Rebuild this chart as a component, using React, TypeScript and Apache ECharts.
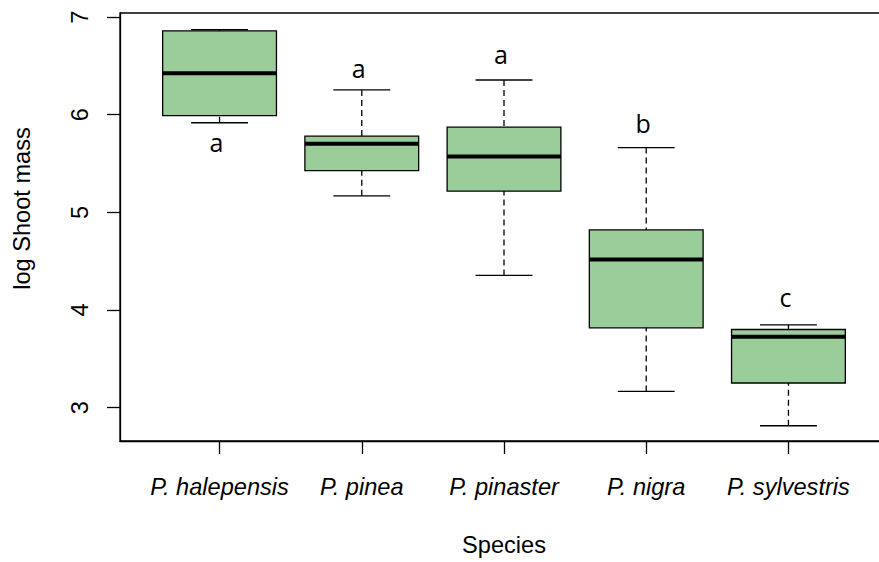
import React, { useEffect, useRef } from "react";
import * as echarts from "echarts";

// ---- data ----
const species = ["P. halepensis", "P. pinea", "P. pinaster", "P. nigra", "P. sylvestris"];
const whiskerLow = [5.918, 5.169, 4.354, 3.165, 2.814];
const quartile1 = [5.992, 5.428, 5.217, 3.817, 3.252];
const medians = [6.424, 5.703, 5.571, 4.517, 3.725];
const quartile3 = [6.859, 5.781, 5.873, 4.82, 3.8];
const whiskerHigh = [6.872, 6.254, 6.356, 5.664, 3.848];
const groupLetters = ["a", "a", "a", "b", "c"];
const letterY = [5.688, 6.453, 6.589, 5.882, 4.099];
const yTicks = [3, 4, 5, 6, 7];
const xTicks = [1, 2, 3, 4, 5];

const AXIS_FONT = "'Liberation Sans', Arial, Helvetica, sans-serif";
const AXIS_SIZE = 23.6;
const LETTER_FONT = "'Open Sans', 'Noto Sans', sans-serif";
const BOX_FILL = "#9BCD9B";

export default function App() {
  const ref = useRef<HTMLDivElement>(null);

  useEffect(() => {
    if (!ref.current) return;
    const chart = echarts.init(ref.current, undefined, { renderer: "svg" });

    const boxData = species.map((_, i) => [
      xTicks[i],
      whiskerLow[i],
      quartile1[i],
      medians[i],
      quartile3[i],
      whiskerHigh[i],
    ]);
    const letterData = species.map((_, i) => [xTicks[i], letterY[i]]);

    const renderBox = (params: any, api: any) => {
      const x = api.value(0);
      const pLow = api.coord([x, api.value(1)]);
      const pQ1 = api.coord([x, api.value(2)]);
      const pMed = api.coord([x, api.value(3)]);
      const pQ3 = api.coord([x, api.value(4)]);
      const pHigh = api.coord([x, api.value(5)]);
      const halfBox = api.size([0.4, 0])[0];
      const halfCap = api.size([0.2, 0])[0];
      const cx = pMed[0];
      const lw = 1.3;
      return {
        type: "group",
        children: [
          {
            type: "rect",
            shape: { x: cx - halfBox, y: pQ3[1], width: 2 * halfBox, height: pQ1[1] - pQ3[1] },
            style: { fill: BOX_FILL, stroke: "#000", lineWidth: lw },
          },
          {
            type: "line",
            shape: { x1: cx - halfBox, y1: pMed[1], x2: cx + halfBox, y2: pMed[1] },
            style: { stroke: "#000", lineWidth: 4 },
          },
          {
            type: "line",
            shape: { x1: cx, y1: pLow[1], x2: cx, y2: pQ1[1] },
            style: { stroke: "#000", lineWidth: lw, lineDash: [6, 4] },
          },
          {
            type: "line",
            shape: { x1: cx, y1: pHigh[1], x2: cx, y2: pQ3[1] },
            style: { stroke: "#000", lineWidth: lw, lineDash: [6, 4] },
          },
          {
            type: "line",
            shape: { x1: cx - halfCap, y1: pLow[1], x2: cx + halfCap, y2: pLow[1] },
            style: { stroke: "#000", lineWidth: lw },
          },
          {
            type: "line",
            shape: { x1: cx - halfCap, y1: pHigh[1], x2: cx + halfCap, y2: pHigh[1] },
            style: { stroke: "#000", lineWidth: lw },
          },
        ],
      };
    };

    const renderLetter = (params: any, api: any) => {
      const p = api.coord([api.value(0), api.value(1)]);
      return {
        type: "text",
        x: p[0] - 3,
        y: p[1] - 3,
        style: {
          text: groupLetters[params.dataIndex],
          fill: "#000",
          font: `25px ${LETTER_FONT}`,
          align: "center",
          verticalAlign: "middle",
        },
      };
    };

    chart.setOption({
      animation: false,
      backgroundColor: "#fff",
      grid: {
        left: 120,
        right: 0,
        top: 13,
        bottom: 119,
        show: true,
        borderColor: "#000",
        borderWidth: 1.3,
        backgroundColor: "transparent",
      },
      xAxis: {
        type: "value",
        min: 0.3,
        max: 5.7,
        name: "Species",
        nameLocation: "middle",
        nameGap: 92,
        nameTextStyle: { fontFamily: AXIS_FONT, fontSize: AXIS_SIZE, color: "#000" },
        axisLine: { show: true, onZero: false, lineStyle: { color: "#000", width: 1.3 } },
        axisTick: { show: true, customValues: xTicks, length: 13, lineStyle: { color: "#000", width: 1.3 } },
        axisLabel: {
          customValues: xTicks,
          margin: 34,
          fontFamily: AXIS_FONT,
          fontSize: AXIS_SIZE,
          fontStyle: "italic",
          color: "#000",
          formatter: (v: number) => species[Math.round(v) - 1] ?? "",
        },
        splitLine: { show: false },
      },
      yAxis: {
        type: "value",
        min: 2.6576,
        max: 7.0424,
        name: "log Shoot mass",
        nameLocation: "middle",
        nameGap: 86,
        nameTextStyle: { fontFamily: AXIS_FONT, fontSize: AXIS_SIZE, color: "#000", padding: [0, 0, 0, 37] },
        axisLine: { show: true, onZero: false, lineStyle: { color: "#000", width: 1.3 } },
        axisTick: { show: true, customValues: yTicks, length: 13, lineStyle: { color: "#000", width: 1.3 } },
        axisLabel: {
          customValues: yTicks,
          rotate: 90,
          margin: 28,
          fontFamily: AXIS_FONT,
          fontSize: AXIS_SIZE,
          color: "#000",
        },
        splitLine: { show: false },
      },
      series: [
        {
          type: "custom",
          name: "box",
          renderItem: renderBox,
          encode: { x: 0, y: [1, 2, 3, 4, 5] },
          data: boxData,
          clip: false,
        },
        {
          type: "custom",
          name: "letters",
          renderItem: renderLetter,
          encode: { x: 0, y: 1 },
          data: letterData,
          clip: false,
        },
      ],
    });

    return () => chart.dispose();
  }, []);

  return (
    <div style={{ position: "fixed", left: 0, top: 0, width: 879, height: 562, overflow: "hidden", background: "#fff" }}>
      <div ref={ref} style={{ width: 888, height: 562 }} />
    </div>
  );
}
